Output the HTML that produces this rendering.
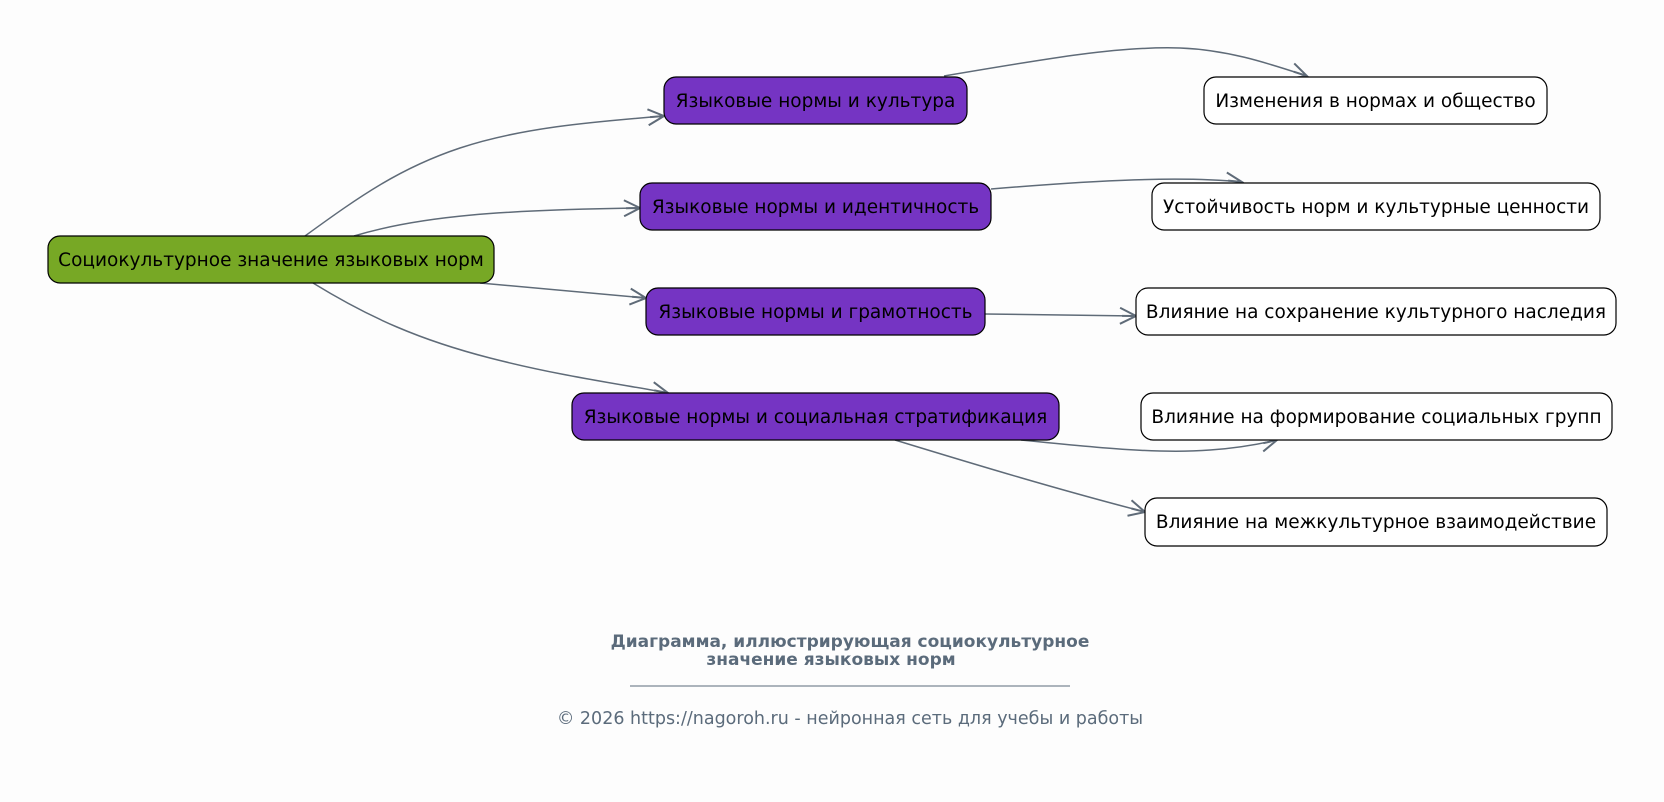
<!DOCTYPE html>
<html><head><meta charset="utf-8"><style>
html,body{margin:0;padding:0;background:#fdfdfd;}
svg{display:block;}
text{font-family:"DejaVu Sans","Liberation Sans",sans-serif;}
</style></head><body>
<svg width="1664" height="802" viewBox="0 0 1664 802" xmlns="http://www.w3.org/2000/svg">
<rect width="1664" height="802" fill="#fdfdfd"/>
<defs><marker id="a" markerWidth="20" markerHeight="18" refX="17" refY="9" orient="auto" markerUnits="userSpaceOnUse"><path d="M1,1 L17,9 L1,17 M3,9 L17,9" fill="none" stroke="#5f6b78" stroke-width="2"/></marker></defs>
<g fill="none" stroke="#5f6b78" stroke-width="1.5" marker-end="url(#a)">
<path d="M305,236 C360,196 400,168 460,148 C520,128 590,122 664,116"/>
<path d="M354,236 C420,216 500,210 640,208"/>
<path d="M480,283 L646,298"/>
<path d="M313,283 C370,318 420,340 490,358 C560,376 620,384 668,393"/>
<path d="M944,76 C1050,58 1120,46 1180,48 C1230,50 1270,64 1307,76"/>
<path d="M991,189 C1100,180 1180,176 1242,182"/>
<path d="M985,314 L1136,316"/>
<path d="M1021,440 C1100,448 1160,454 1210,450 C1240,448 1260,444 1277,440"/>
<path d="M895,440 C980,466 1060,490 1145,512"/>
</g>
<g stroke="#000" stroke-width="1.2">
<rect x="48" y="236" width="446" height="47" rx="12" fill="#77a825"/>
<rect x="664" y="77" width="303" height="47" rx="12" fill="#7534c3"/>
<rect x="640" y="183" width="351" height="47" rx="12" fill="#7534c3"/>
<rect x="646" y="288" width="339" height="47" rx="12" fill="#7534c3"/>
<rect x="572" y="393" width="487" height="47" rx="12" fill="#7534c3"/>
<rect x="1204" y="77" width="343" height="47" rx="12" fill="#fff"/>
<rect x="1152" y="183" width="448" height="47" rx="12" fill="#fff"/>
<rect x="1136" y="288" width="480" height="47" rx="12" fill="#fff"/>
<rect x="1141" y="393" width="471" height="47" rx="12" fill="#fff"/>
<rect x="1145" y="498" width="462" height="48" rx="12" fill="#fff"/>
</g>
<g font-size="18.5" fill="#000" text-anchor="middle">
<text x="271" y="266">Социокультурное значение языковых норм</text>
<text x="815.5" y="107">Языковые нормы и культура</text>
<text x="815.5" y="213">Языковые нормы и идентичность</text>
<text x="815.5" y="318">Языковые нормы и грамотность</text>
<text x="815.5" y="423">Языковые нормы и социальная стратификация</text>
<text x="1375.5" y="107">Изменения в нормах и общество</text>
<text x="1376" y="213">Устойчивость норм и культурные ценности</text>
<text x="1376" y="318">Влияние на сохранение культурного наследия</text>
<text x="1376.5" y="423">Влияние на формирование социальных групп</text>
<text x="1376" y="528">Влияние на межкультурное взаимодействие</text>
</g>
<g fill="#5b6b7b" text-anchor="middle">
<text x="850" y="647" font-size="17" font-weight="bold">Диаграмма, иллюстрирующая социокультурное</text>
<text x="831" y="665" font-size="17" font-weight="bold">значение языковых норм</text>
<line x1="630" y1="686" x2="1070" y2="686" stroke="#5b6b7b" stroke-width="1"/>
<text x="850" y="724" font-size="17.5">© 2026 https://nagoroh.ru - нейронная сеть для учебы и работы</text>
</g>
</svg>
</body></html>
